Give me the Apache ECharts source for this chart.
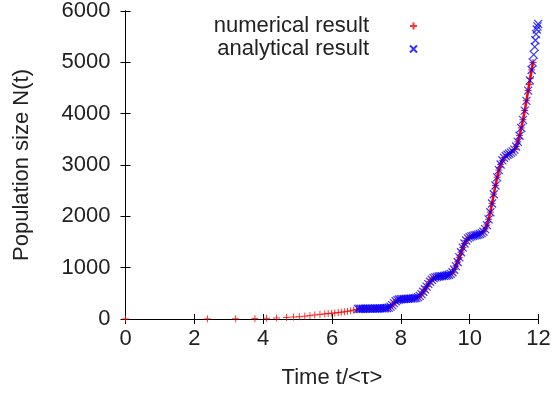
<!DOCTYPE html>
<html>
<head>
<meta charset="utf-8">
<script src="https://cdn.jsdelivr.net/npm/echarts@6/dist/echarts.min.js"></script>
<style>
  html, body { margin: 0; padding: 0; background: #fff; }
  #main { width: 554px; height: 394px; }
</style>
</head>
<body>
<div id="main"></div>
<script>
// numerical result, sparse early part (scatter only)
const numEarlyT = [0, 2.38, 3.2, 3.76, 4.1, 4.39, 4.68, 4.88, 5.05, 5.21, 5.36, 5.5, 5.65, 5.79, 5.89, 5.99, 6.08, 6.18, 6.27, 6.36, 6.45, 6.54, 6.63];
const numEarlyN = [1, 2, 4, 7, 15, 20, 30, 38, 45, 55, 65, 78, 90, 100, 106, 112, 118, 125, 132, 140, 150, 160, 172];

// numerical result, dense part
const numT = [6.72, 6.8, 6.9, 7.0, 7.1, 7.2, 7.3, 7.4, 7.5, 7.6, 7.65, 7.7, 7.75, 7.8, 7.85, 7.9, 8.0, 8.1, 8.2, 8.3, 8.4, 8.5, 8.55, 8.6, 8.65, 8.7, 8.75, 8.8, 8.85, 8.9, 8.95, 9.0, 9.1, 9.2, 9.3, 9.4, 9.45, 9.5, 9.55, 9.6, 9.65, 9.7, 9.75, 9.8, 9.85, 9.9, 9.95, 10.0, 10.1, 10.2, 10.3, 10.4, 10.45, 10.5, 10.55, 10.6, 10.65, 10.7, 10.75, 10.8, 10.85, 10.9, 10.95, 11.0, 11.1, 11.2, 11.3, 11.35, 11.4, 11.45, 11.5, 11.55, 11.6, 11.65, 11.7, 11.73, 11.76, 11.8, 11.84];
const numN = [185, 196, 199, 201, 202, 203, 204, 206, 208, 214, 222, 242, 272, 312, 346, 368, 385, 390, 394, 398, 405, 424, 452, 487, 532, 582, 632, 682, 727, 766, 796, 812, 828, 836, 846, 862, 881, 912, 962, 1032, 1112, 1202, 1302, 1392, 1471, 1531, 1571, 1596, 1621, 1637, 1657, 1701, 1752, 1832, 1942, 2082, 2252, 2432, 2602, 2762, 2902, 3012, 3092, 3142, 3202, 3242, 3302, 3362, 3452, 3572, 3722, 3882, 4062, 4252, 4452, 4570, 4690, 4852, 5000];

// analytical result
const anaT = [6.75, 6.8, 6.85, 6.9, 6.95, 7.0, 7.05, 7.1, 7.15, 7.2, 7.25, 7.3, 7.35, 7.4, 7.45, 7.5, 7.55, 7.6, 7.65, 7.7, 7.75, 7.8, 7.85, 7.9, 7.95, 8.0, 8.05, 8.1, 8.15, 8.2, 8.25, 8.3, 8.35, 8.4, 8.45, 8.5, 8.55, 8.6, 8.65, 8.7, 8.75, 8.8, 8.85, 8.9, 8.95, 9.0, 9.05, 9.1, 9.15, 9.2, 9.25, 9.3, 9.35, 9.4, 9.45, 9.5, 9.55, 9.6, 9.65, 9.7, 9.75, 9.8, 9.85, 9.9, 9.95, 10.0, 10.05, 10.1, 10.15, 10.2, 10.25, 10.3, 10.35, 10.4, 10.45, 10.5, 10.55, 10.6, 10.65, 10.7, 10.75, 10.8, 10.85, 10.9, 10.95, 11.0, 11.05, 11.1, 11.15, 11.2, 11.25, 11.3, 11.35, 11.4, 11.45, 11.5, 11.55, 11.6, 11.65, 11.7, 11.75, 11.8, 11.83, 11.86, 11.89, 11.91, 11.93, 11.95, 11.97, 11.99];
const anaN = [198, 199, 200, 200, 201, 201, 202, 202, 203, 203, 204, 204, 205, 206, 207, 208, 210, 214, 222, 240, 270, 310, 345, 368, 380, 385, 388, 390, 392, 394, 396, 398, 401, 405, 412, 425, 450, 485, 530, 580, 630, 680, 725, 765, 795, 812, 822, 828, 832, 836, 840, 845, 852, 862, 880, 910, 960, 1030, 1110, 1200, 1300, 1390, 1470, 1530, 1570, 1595, 1610, 1620, 1628, 1636, 1645, 1656, 1672, 1700, 1750, 1830, 1940, 2080, 2250, 2430, 2600, 2760, 2900, 3010, 3090, 3140, 3175, 3200, 3220, 3240, 3265, 3300, 3360, 3450, 3570, 3720, 3880, 4060, 4250, 4450, 4650, 4850, 5000, 5150, 5300, 5430, 5550, 5640, 5700, 5750];

const xTicks = [0, 2, 4, 6, 8, 10, 12];
const yTicks = [0, 1000, 2000, 3000, 4000, 5000, 6000];

const plusIcon = 'path://M0,3.5H7M3.5,0V7';
const crossIcon = 'path://M0,0L7,7M7,0L0,7';
const font = 'Liberation Sans';

const pairs = (xs, ys) => xs.map((x, i) => [x, ys[i]]);

const chart = echarts.init(document.getElementById('main'));

const frameAxis = (pos) => ({
  type: 'value',
  position: pos,
  axisLine: { show: true, lineStyle: { color: '#000', width: 1 } },
  axisTick: { show: true, inside: true, length: 5, lineStyle: { color: '#000' } },
  axisLabel: { show: false },
  splitLine: { show: false },
});

const option = {
  animation: false,
  backgroundColor: '#fff',
  grid: { left: 125.5, right: 15.5, top: 9.5, bottom: 75, containLabel: false },
  legend: {
    orient: 'vertical',
    align: 'right',
    right: 131,
    top: 10,
    itemWidth: 7,
    itemHeight: 7,
    itemGap: 1,
    textStyle: { fontSize: 22, color: '#222', fontFamily: font, padding: [0, 36, 0, 0] },
    data: [
      { name: 'numerical result', icon: plusIcon },
      { name: 'analytical result', icon: crossIcon },
    ],
  },
  xAxis: [
    {
      type: 'value',
      min: xTicks[0],
      max: xTicks[xTicks.length - 1],
      interval: 2,
      name: 'Time t/<τ>',
      nameLocation: 'middle',
      nameGap: 48,
      nameTextStyle: { fontSize: 22, color: '#222', fontFamily: font },
      axisLine: { show: true, onZero: false, lineStyle: { color: '#000', width: 1 } },
      axisTick: { show: true, inside: true, length: 5, lineStyle: { color: '#000' } },
      axisLabel: { fontSize: 22, color: '#222', fontFamily: font, margin: 9 },
      splitLine: { show: false },
    },
    Object.assign(frameAxis('top'), { min: 0, max: 12, interval: 2 }),
  ],
  yAxis: [
    {
      type: 'value',
      min: yTicks[0],
      max: yTicks[yTicks.length - 1],
      interval: 1000,
      name: 'Population size N(t)',
      nameLocation: 'middle',
      nameGap: 93,
      nameTextStyle: { fontSize: 22, color: '#222', fontFamily: font },
      axisLine: { show: true, onZero: false, lineStyle: { color: '#000', width: 1 } },
      axisTick: { show: true, inside: true, length: 5, lineStyle: { color: '#000' } },
      axisLabel: { fontSize: 22, color: '#222', fontFamily: font, margin: 15, formatter: (v) => String(v) },
      splitLine: { show: false },
    },
    Object.assign(frameAxis('right'), { min: 0, max: 6000, interval: 1000 }),
  ],
  series: [
    {
      name: 'numerical result',
      type: 'scatter',
      z: 2,
      symbol: plusIcon,
      symbolSize: 7,
      itemStyle: { color: '#ff0000', borderColor: '#ff0000', borderWidth: 1 },
      data: pairs(numEarlyT, numEarlyN),
    },
    {
      name: 'numerical result',
      type: 'line',
      z: 2,
      symbol: plusIcon,
      symbolSize: 7,
      showAllSymbol: true,
      lineStyle: { color: '#ff0000', width: 2.5 },
      itemStyle: { color: '#ff0000', borderColor: '#ff0000', borderWidth: 1 },
      data: pairs(numT, numN),
    },
    {
      name: 'analytical result',
      type: 'scatter',
      z: 5,
      symbol: crossIcon,
      symbolSize: 8,
      itemStyle: { color: '#0000ff', borderColor: '#0000ff', borderWidth: 1.2 },
      data: pairs(anaT, anaN),
    },
  ],
};

chart.setOption(option);
</script>
</body>
</html>
